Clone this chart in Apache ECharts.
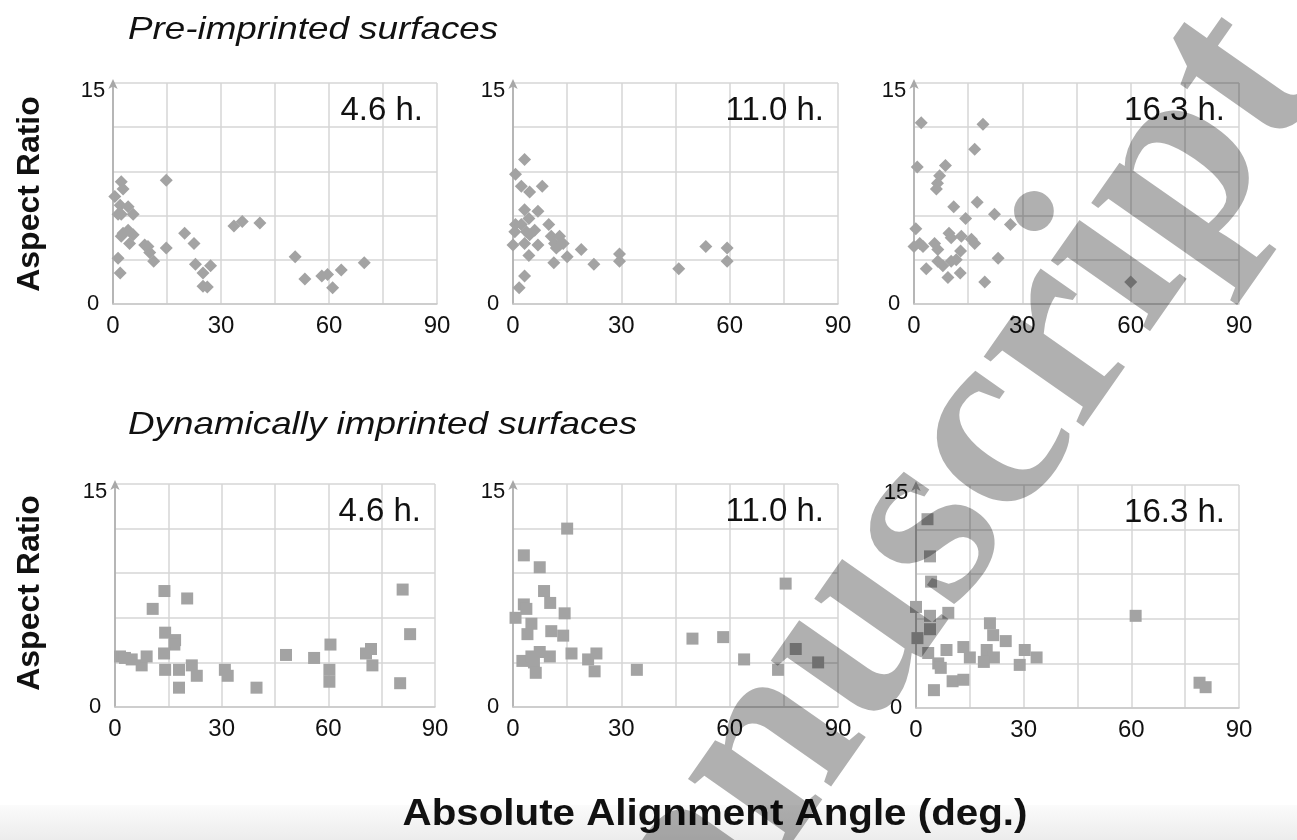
<!DOCTYPE html>
<html>
<head>
<meta charset="utf-8">
<script src="https://cdn.jsdelivr.net/npm/echarts@6/dist/echarts.min.js"></script>
<style>
html,body{margin:0;padding:0;background:#fff;}
#chart{width:1297px;height:840px;}
</style>
</head>
<body>
<div id="chart"></div>
<script>
// ---- data: [angle (deg), aspect ratio] ----
const pre46 = [[0.5,7.3],[2.3,8.3],[2.8,7.8],[2.0,6.7],[4.2,6.6],[1.4,6.1],[2.3,6.1],[5.6,6.1],[14.8,8.4],[2.8,4.8],[4.2,5.0],[5.6,4.7],[4.6,4.1],[2.3,4.6],[8.8,4.0],[9.7,3.9],[10.2,3.5],[11.3,2.9],[1.4,3.1],[2.0,2.1],[14.8,3.8],[19.9,4.8],[22.5,4.1],[22.9,2.7],[25.0,2.1],[27.1,2.6],[25.0,1.2],[26.2,1.15],[33.6,5.3],[35.9,5.6],[40.8,5.5],[50.6,3.2],[53.3,1.7],[58.0,1.9],[59.6,2.0],[61.0,1.1],[63.4,2.3],[69.8,2.8]];
const pre110 = [[3.2,9.8],[0.7,8.8],[2.3,8.0],[4.6,7.6],[8.1,8.0],[3.2,6.4],[6.9,6.3],[4.4,5.8],[0.7,5.4],[2.3,5.4],[0.5,4.9],[3.7,4.9],[6.0,5.0],[4.6,4.7],[9.9,5.4],[0.0,4.0],[3.2,4.1],[6.9,4.0],[4.4,3.3],[10.6,4.6],[12.9,4.6],[11.5,4.1],[12.9,4.0],[12.0,3.8],[13.9,4.1],[11.3,2.8],[15.0,3.2],[18.9,3.7],[22.4,2.7],[29.5,3.4],[29.5,2.9],[45.9,2.4],[53.4,3.9],[59.3,3.8],[59.3,2.9],[3.2,1.9],[1.7,1.1]];
const pre163 = [[2.0,12.3],[19.1,12.2],[16.8,10.5],[0.9,9.3],[8.7,9.4],[7.1,8.7],[6.5,8.2],[6.2,7.8],[11.0,6.6],[17.5,6.9],[22.3,6.1],[14.3,5.8],[26.7,5.4],[0.5,5.1],[0.0,3.9],[1.6,4.1],[2.5,3.9],[5.7,4.1],[6.6,3.7],[9.7,4.8],[10.3,4.5],[13.1,4.6],[15.9,4.4],[16.8,4.1],[12.9,3.6],[11.7,3.0],[6.6,2.9],[8.0,2.6],[10.3,2.9],[23.3,3.1],[3.4,2.4],[9.4,1.8],[12.8,2.1],[19.6,1.5],[60.0,1.5]];
const dyn46 = [[1.4,3.4],[2.8,3.3],[4.7,3.2],[7.5,2.8],[8.9,3.4],[10.6,6.6],[13.9,7.8],[20.3,7.3],[14.1,5.0],[16.9,4.5],[16.7,4.2],[13.8,3.6],[14.1,2.5],[18.0,2.5],[21.6,2.8],[23.0,2.1],[18.0,1.3],[30.9,2.5],[31.7,2.1],[39.8,1.3],[48.1,3.5],[56.0,3.3],[60.6,4.2],[60.3,2.5],[60.3,1.7],[70.6,3.6],[72.0,3.9],[72.4,2.8],[80.9,7.9],[83.0,4.9],[80.2,1.6]];
const dyn110 = [[15.0,12.0],[3.0,10.2],[7.4,9.4],[8.6,7.8],[10.3,7.0],[3.0,6.9],[3.7,6.6],[14.3,6.3],[0.7,6.0],[5.1,5.6],[4.0,4.9],[10.6,5.1],[13.9,4.8],[2.6,3.1],[5.1,3.4],[7.4,3.7],[5.8,3.0],[10.2,3.4],[6.3,2.3],[16.2,3.6],[20.8,3.2],[23.1,3.6],[22.6,2.4],[34.3,2.5],[49.7,4.6],[58.2,4.7],[64.0,3.2],[75.5,8.3],[78.3,3.9],[73.4,2.5],[84.5,3.0]];
const dyn163 = [[3.2,12.7],[3.9,10.2],[4.2,8.5],[0.0,6.8],[3.9,6.2],[3.9,5.3],[0.4,4.7],[9.0,6.4],[20.6,5.7],[21.5,4.9],[25.0,4.5],[13.2,4.1],[8.5,3.9],[19.7,3.9],[3.4,3.7],[15.0,3.4],[21.7,3.4],[18.9,3.1],[30.3,3.9],[33.6,3.4],[28.9,2.9],[6.2,3.0],[6.9,2.7],[10.2,1.8],[13.2,1.9],[5.0,1.2],[61.2,6.2],[79.0,1.7],[80.7,1.4]];

const panelLabels = ['4.6 h.', '11.0 h.', '16.3 h.', '4.6 h.', '11.0 h.', '16.3 h.'];
const rowTitles = ['Pre-imprinted surfaces', 'Dynamically imprinted surfaces'];
const yTitle = 'Aspect Ratio';
const xTitle = 'Absolute Alignment Angle (deg.)';
const watermark = 'Manuscript';
const xTicks = [0, 30, 60, 90];
const yTicks = [0, 15];

const panels = [pre46, pre110, pre163, dyn46, dyn110, dyn163];

// ---- layout ----
const FONT = '"Liberation Sans", Arial, Helvetica, sans-serif';
const grids = [
  {left:113, top:83, width:324, height:221},
  {left:513, top:83, width:325, height:221},
  {left:914, top:83, width:325, height:221},
  {left:115, top:484, width:320, height:223},
  {left:513, top:484, width:325, height:223},
  {left:916, top:485, width:323, height:223}
];
const MARK = '#a3a3a3';
const GRIDC = '#d6d6d6';

const chart = echarts.init(document.getElementById('chart'), null, {renderer:'canvas'});

const xAxis = grids.map((g, i) => ({
  gridIndex: i, type: 'value', min: 0, max: 90, interval: 15,
  axisLine: {show: true, lineStyle: {color: '#c8c8c8', width: 1.5}},
  axisTick: {show: false},
  splitLine: {show: true, lineStyle: {color: GRIDC, width: 1.5}},
  axisLabel: {
    show: true, margin: 10, fontFamily: FONT, fontSize: 24, color: '#111',
    formatter: v => xTicks.indexOf(v) >= 0 ? String(v) : ''
  }
}));
const yAxis = grids.map((g, i) => ({
  gridIndex: i, type: 'value', min: 0, max: 15, interval: 3,
  axisLine: {show: true, symbol: ['none', 'arrow'], symbolSize: [7, 10], symbolOffset: [0, 4],
             lineStyle: {color: '#a8a8a8', width: 1.5}},
  axisTick: {show: false},
  splitLine: {show: true, lineStyle: {color: GRIDC, width: 1.5}},
  axisLabel: {
    show: true, margin: 20, align: 'center', fontFamily: FONT, fontSize: 22, color: '#111',
    formatter: v => v === yTicks[1] ? '{t|' + v + '}' : (v === yTicks[0] ? String(v) : ''),
    rich: {t: {fontFamily: FONT, fontSize: 22, color: '#111', padding: [16, 0, 0, 0]}}
  }
}));
const series = panels.map((d, i) => ({
  type: 'scatter', xAxisIndex: i, yAxisIndex: i, data: d,
  symbol: i < 3 ? 'diamond' : 'rect',
  symbolSize: i < 3 ? 13 : 12,
  itemStyle: {color: MARK, opacity: 1},
  silent: true
}));

const graphic = [];
// bottom band
graphic.push({type: 'rect', left: 0, top: 805, z: -10, silent: true,
  shape: {width: 1297, height: 35},
  style: {fill: new echarts.graphic.LinearGradient(0, 0, 0, 1, [
    {offset: 0, color: '#fbfbfb'}, {offset: 1, color: '#ececec'}])}});
// panel labels
grids.forEach((g, i) => {
  graphic.push({type: 'text', z: 50, silent: true,
    x: g.left + g.width - 14, y: g.top + 28,
    style: {text: panelLabels[i], fontFamily: FONT, fontSize: 33, fill: '#111',
            textAlign: 'right', textVerticalAlign: 'middle'}});
});
// row titles
[[128, 30], [128, 425]].forEach((p, i) => {
  graphic.push({type: 'text', z: 50, silent: true, x: p[0], y: p[1], scaleX: 1.15,
    style: {text: rowTitles[i], fontFamily: FONT, fontStyle: 'italic', fontSize: 32, fill: '#111',
            textAlign: 'left', textVerticalAlign: 'middle'}});
});
// y titles
[194, 593].forEach(cy => {
  graphic.push({type: 'text', z: 50, silent: true, x: 30, y: cy, rotation: Math.PI / 2,
    style: {text: yTitle, fontFamily: FONT, fontWeight: 'bold', fontSize: 32, fill: '#111',
            textAlign: 'center', textVerticalAlign: 'middle'}});
});
// x title
graphic.push({type: 'text', z: 50, silent: true, x: 715, y: 815, scaleX: 1.12,
  style: {text: xTitle, fontFamily: FONT, fontWeight: 'bold', fontSize: 36, fill: '#111',
          textAlign: 'center', textVerticalAlign: 'middle'}});
// watermark
graphic.push({type: 'text', z: 200, silent: true, x: 888, y: 586, rotation: 55 * Math.PI / 180,
  style: {text: watermark, fontFamily: '"Liberation Serif", "DejaVu Serif", serif', fontWeight: 'bold',
          fontSize: 265, fill: 'rgba(0,0,0,0.31)', textAlign: 'center', textVerticalAlign: 'middle'}});

chart.setOption({
  animation: false,
  backgroundColor: '#ffffff',
  grid: grids.map(g => Object.assign({containLabel: false, show: false}, g)),
  xAxis, yAxis, series, graphic
});
</script>
</body>
</html>
